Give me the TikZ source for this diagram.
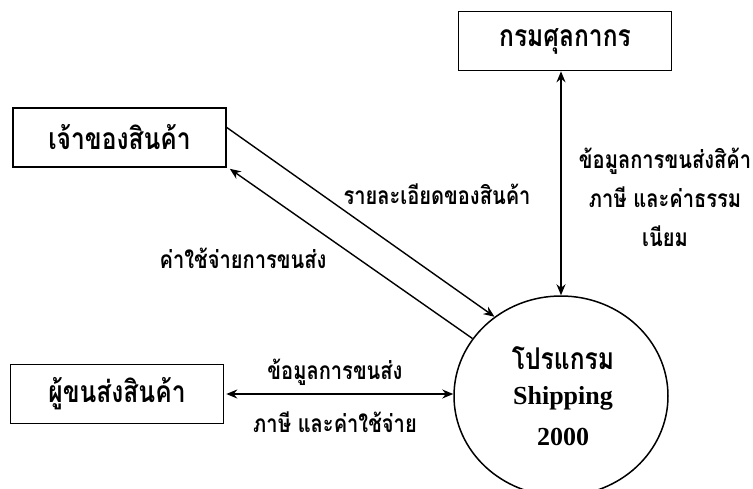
\documentclass[tikz,border=0pt]{standalone}
\usepackage{fontspec}
\setmainfont{Liberation Serif}
\newfontfamily\thai[Script=Thai,FakeStretch=0.82]{Loma}
\usetikzlibrary{arrows.meta,shapes.geometric}
\tikzset{
  entity/.style={draw, line width=1.6pt, minimum width=213pt, minimum height=59pt, inner sep=0pt, font=\thai\bfseries\fontsize{30}{32}\selectfont},
  proc/.style={draw, ellipse, line width=1.5pt, minimum width=214pt, minimum height=200pt, inner sep=0pt},
  flow/.style={line width=1.4pt},
  tip/.style={-{Stealth[length=11pt,width=9pt]}},
  both/.style={{Stealth[length=11pt,width=9pt]}-{Stealth[length=11pt,width=9pt]}},
  lbl/.style={font=\thai\bfseries\fontsize{24.5}{39}\selectfont, inner sep=0pt}
}
\begin{document}
\begin{tikzpicture}[x=1pt,y=-1pt]
\useasboundingbox (0,0) rectangle (753,488);
\node[entity] (cust) at (565,41) {กรมศุลกากร};
\node[entity] (owner) at (119.5,137.5) {เจ้าของสินค้า};
\node[entity] (carrier) at (117,394) {ผู้ขนส่งสินค้า};
\node[proc] (prog) at (561,396) {};
\node[font=\thai\bfseries\fontsize{30}{32}\selectfont] (t1) at (563,358) {โปรแกรม};
\node[font=\bfseries\fontsize{26}{28}\selectfont] (t2) at (563,398) {Shipping};
\node[font=\bfseries\fontsize{26}{28}\selectfont] (t3) at (563,437) {2000};
% flows
\draw[flow,both] (cust.south -| prog.north) -- (prog.north);
\draw[flow,tip] ([yshift=10pt]owner.east) -- (prog.130);
\draw[flow,tip] (prog.147) -- ([xshift=3pt,yshift=-1pt]owner.south east);
\draw[flow,both] ([xshift=2pt]carrier.east) -- (carrier.east -| prog.west);
% labels
\node[lbl] (l1) at (437,194) {รายละเอียดของสินค้า};
\node[lbl] (l2) at (243,258) {ค่าใช้จ่ายการขนส่ง};
\node[lbl,align=center] (l3) at (665,197) {ข้อมูลการขนส่งสิค้า\\ภาษี และค่าธรรม\\เนียม};
\node[lbl] (l4) at (335,372) {ข้อมูลการขนส่ง};
\node[lbl] (l5) at (335,422) {ภาษี และค่าใช้จ่าย};
\end{tikzpicture}
\end{document}
